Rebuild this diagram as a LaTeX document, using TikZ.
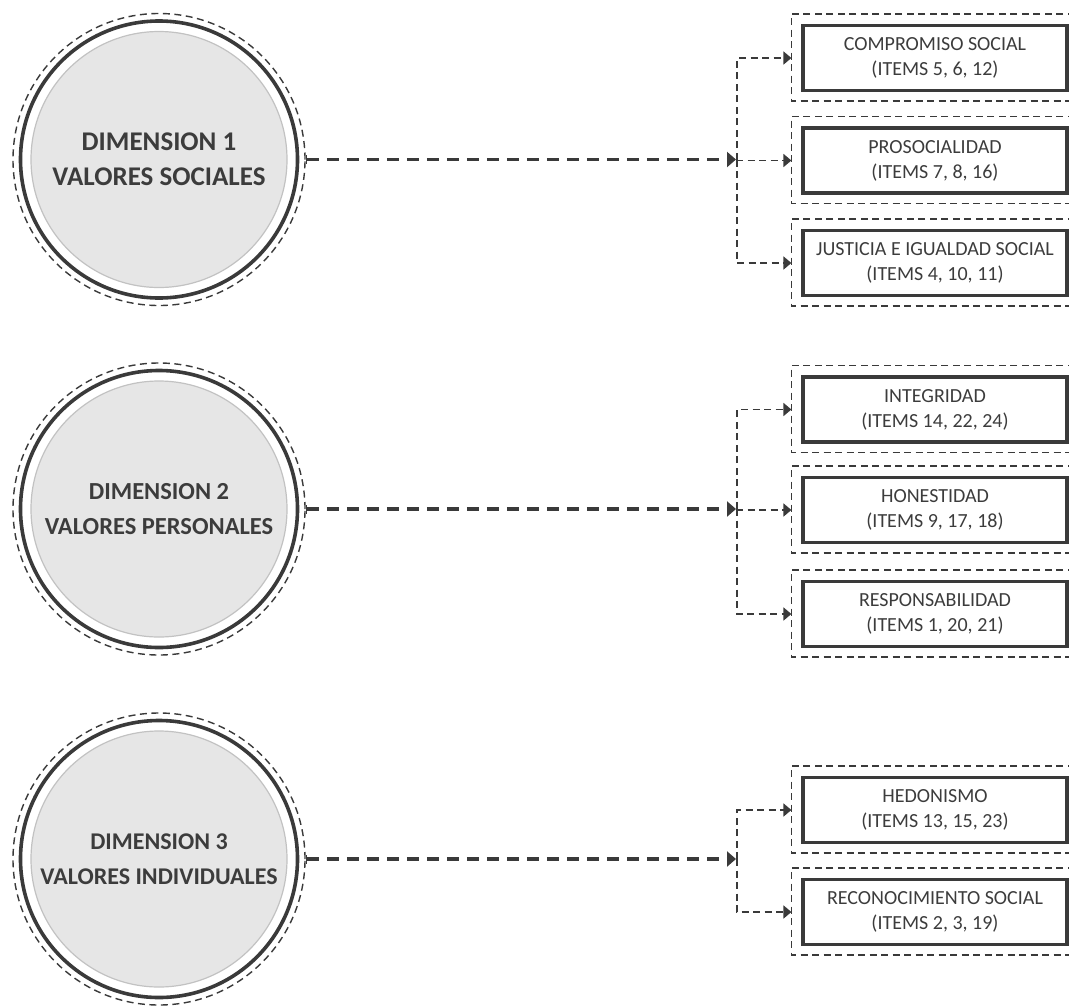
\documentclass[tikz,border=0pt]{standalone}
\usepackage{fontspec}
\setmainfont{Carlito}
\usetikzlibrary{arrows.meta,calc}
\definecolor{ink}{HTML}{3A3A3A}
\definecolor{txt}{HTML}{3C3C3C}
\definecolor{discfill}{HTML}{E6E6E6}
\definecolor{discline}{HTML}{C2C2C2}
\tikzset{
  disc/.style={circle, minimum size=256pt, inner sep=0pt, fill=discfill, draw=discline, line width=1.2pt,
    text=txt, align=center},
  boldtext/.style={font=\bfseries\fontsize{27}{35}\selectfont},
  midtext/.style={font=\bfseries\fontsize{24.5}{35}\selectfont},
  smalltext/.style={font=\bfseries\fontsize{24}{35}\selectfont},
  halo/.style={circle, minimum size=292pt, inner sep=0pt, draw=ink, line width=1.4pt, dash pattern=on 7pt off 4.5pt},
  ring/.style={draw=ink, line width=3.6pt},
  itembox/.style={rectangle, minimum width=264pt, minimum height=65pt, inner sep=0pt, draw=ink, line width=3.2pt,
    font=\fontsize{20}{25}\selectfont, text=txt, align=center},
  frame/.style={draw=ink, line width=1.4pt, dash pattern=on 7pt off 4.5pt},
  mainlink/.style={draw=ink, line width=3.6pt, dash pattern=on 12pt off 8pt, {Bar[width=9pt,line width=1.5pt]}-{Triangle[length=9pt,width=15pt]}},
  branch/.style={draw=ink, line width=1.8pt, dash pattern=on 7pt off 4.5pt, -{Triangle[length=8pt,width=13pt]}},
}
\newcommand{\frameof}[1]{%
  \draw[frame] ([shift={(6pt,10pt)}]#1.north east) -- ([shift={(-10pt,10pt)}]#1.north west)
    -- ([shift={(-10pt,-9pt)}]#1.south west) -- ([shift={(6pt,-9pt)}]#1.south east);}
\begin{document}
\begin{tikzpicture}[x=1pt,y=-1pt]
\useasboundingbox (0,0) rectangle (1069,1005);

% ---- circles
\foreach \n/\y/\s/\t in {1/159.5/boldtext/{DIMENSION 1\\VALORES SOCIALES},
                      2/509/midtext/{DIMENSION 2\\VALORES PERSONALES},
                      3/859/smalltext/{DIMENSION 3\\VALORES INDIVIDUALES}}{
  \node[halo] (h\n) at (159,\y) {};
  \draw[ring] (h\n.center) circle[radius=138.5];
  \node[disc,\s] (d\n) at (159,\y) {\t};
}

% ---- item boxes
\node[itembox] (b11) at (935,58)    {COMPROMISO SOCIAL\\(ITEMS 5, 6, 12)};
\node[itembox] (b12) at (935,160.5) {PROSOCIALIDAD\\(ITEMS 7, 8, 16)};
\node[itembox] (b13) at (935,263)   {JUSTICIA E IGUALDAD SOCIAL\\(ITEMS 4, 10, 11)};
\node[itembox] (b21) at (935,409.5) {INTEGRIDAD\\(ITEMS 14, 22, 24)};
\node[itembox] (b22) at (935,510)   {HONESTIDAD\\(ITEMS 9, 17, 18)};
\node[itembox] (b23) at (935,614)   {RESPONSABILIDAD\\(ITEMS 1, 20, 21)};
\node[itembox] (b31) at (935,810)   {HEDONISMO\\(ITEMS 13, 15, 23)};
\node[itembox] (b32) at (935,912)   {RECONOCIMIENTO SOCIAL\\(ITEMS 2, 3, 19)};
\foreach \b in {b11,b12,b13,b21,b22,b23,b31,b32}{\frameof{\b}}

% ---- entry points on the frames
\foreach \b in {b11,b12,b13,b21,b22,b23,b31,b32}{
  \coordinate (f\b) at ([xshift=-10pt]\b.west);
}

% ---- junctions
\coordinate (j1) at (737,159.5);
\coordinate (j2) at (737,509);
\coordinate (j3) at (737,859);

% ---- main connectors
\draw[mainlink] (h1.east) -- ([xshift=-1pt]j1);
\draw[mainlink] (h2.east) -- ([xshift=-1pt]j2);
\draw[mainlink] (h3.east) -- ([xshift=-1pt]j3);

% ---- branches
\draw[branch] (j1) |- (fb11);
\draw[branch] (j1) |- (fb12);
\draw[branch] (j1) |- (fb13);
\draw[branch] (j2) |- (fb21);
\draw[branch] (j2) |- (fb22);
\draw[branch] (j2) |- (fb23);
\draw[branch] (j3) |- (fb31);
\draw[branch] (j3) |- (fb32);
\end{tikzpicture}
\end{document}
